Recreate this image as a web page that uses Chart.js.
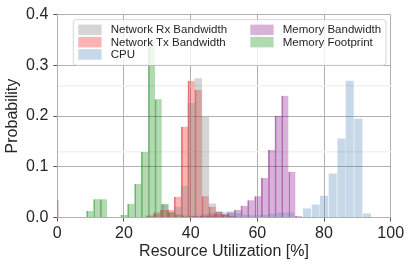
<!DOCTYPE html>
<html>
<head>
<meta charset="utf-8">
<script src="https://cdn.jsdelivr.net/npm/chart.js@4.4.1/dist/chart.umd.min.js"></script>
<style>
  body { margin: 0; background: #fff; }
  #wrap { width: 411px; height: 267px; }
</style>
</head>
<body>
<div id="wrap"><canvas id="histChart" width="411" height="267"></canvas></div>
<script>
// histogram bins (bin centre in %, probability)
const netBinW = 2.07;
const netX = [27.8, 29.9, 32.0, 34.0, 36.1, 38.2, 40.2, 42.3, 44.4, 46.5, 48.5, 50.6, 52.7];
const rxY  = [0.003, 0.010, 0.025, 0.010, 0.020, 0.062, 0.225, 0.274, 0.198, 0.027, 0.012, 0.006, 0.003];
const txY  = [0.004, 0.008, 0.015, 0.015, 0.041, 0.179, 0.269, 0.252, 0.042, 0.021, 0.011, 0.005, 0.003];

const cpuBinW = 2.57;
const cpuX = [41.5, 44.1, 46.6, 49.2, 51.8, 54.3, 56.9, 59.5, 62.0, 64.6, 67.2, 69.8, 74.9, 77.5, 80.0, 82.6, 85.2, 87.7, 90.3, 92.9];
const cpuY = [0.003, 0.006, 0.008, 0.010, 0.011, 0.008, 0.005, 0.004, 0.005, 0.007, 0.009, 0.009, 0.017, 0.025, 0.042, 0.086, 0.155, 0.269, 0.194, 0.007];

const memBwBinW = 2.04;
const memBwX = [-0.6, 41.8, 43.9, 45.9, 47.9, 50.0, 52.0, 54.1, 56.1, 58.1, 60.2, 62.2, 64.3, 66.3, 68.3, 70.4, 72.4];
const memBwY = [0.034, 0.002, 0.003, 0.004, 0.006, 0.007, 0.010, 0.015, 0.023, 0.034, 0.042, 0.078, 0.133, 0.200, 0.240, 0.090, 0.003];

const memFpBinW = 2.05;
const memFpX = [9.8, 11.9, 13.9, 16.0, 18.0, 20.1, 22.1, 24.2, 26.2, 28.3, 30.3, 32.4, 34.4, 36.5, 38.5, 40.6, 42.6];
const memFpY = [0.013, 0.036, 0.036, 0.001, 0.001, 0.005, 0.027, 0.066, 0.129, 0.349, 0.233, 0.027, 0.010, 0.006, 0.004, 0.003, 0.002];

const xTicks = [0, 20, 40, 60, 80, 100];
const yTicks = [0.0, 0.1, 0.2, 0.3, 0.4];

const FONT = "'Liberation Sans', Arial, sans-serif";
const TXT = '#262626';

function pts(xs, ys) {
  return xs.map((x, i) => ({ x: x, y: ys[i] }));
}

// bar width in pixels = bin width on the x scale
function binPx(chart, w, frac) {
  const s = chart.scales.x;
  if (!s) return 1;
  return (s.getPixelForValue(w) - s.getPixelForValue(0)) * frac;
}

function hist(label, xs, ys, w, fill, edge, frac) {
  return {
    label: label,
    data: pts(xs, ys),
    backgroundColor: fill,
    borderColor: edge || fill,
    borderWidth: edge ? { left: 1, right: 0, top: 0, bottom: 0 } : 0,
    borderSkipped: false,
    grouped: false,
    clip: 0,
    barThickness: ctx => binPx(ctx.chart, w, frac || 1)
  };
}

const datasets = [
  hist('Network Rx Bandwidth', netX, rxY, netBinW, 'rgba(128,128,128,0.33)', null),
  hist('Network Tx Bandwidth', netX, txY, netBinW, 'rgba(255,0,0,0.3)', 'rgba(220,0,0,0.5)'),
  hist('CPU', cpuX, cpuY, cpuBinW, 'rgba(70,130,180,0.3)', null, 0.86),
  hist('Memory Bandwidth', memBwX, memBwY, memBwBinW, 'rgba(128,0,128,0.3)', 'rgba(128,0,128,0.5)'),
  hist('Memory Footprint', memFpX, memFpY, memFpBinW, 'rgba(0,128,0,0.3)', 'rgba(0,128,0,0.5)')
];

// matplotlib style legend box, 2 columns, filled column by column
const boxLegend = {
  id: 'boxLegend',
  afterDatasetsDraw(chart) {
    const ctx = chart.ctx;
    const a = chart.chartArea;
    const bx = a.left + 16, by = a.top + 5;
    const bw = a.right - 4.7 - bx, bh = 45.7;
    ctx.save();
    ctx.beginPath();
    ctx.roundRect(bx, by, bw, bh, 3);
    ctx.fillStyle = 'rgba(255,255,255,0.8)';
    ctx.fill();
    ctx.strokeStyle = 'rgba(204,204,204,0.8)';
    ctx.lineWidth = 1;
    ctx.stroke();
    ctx.font = '11.5px ' + FONT;
    ctx.textBaseline = 'middle';
    const cols = [bx + 5, bx + 177];
    chart.data.datasets.forEach((ds, i) => {
      const col = i < 3 ? 0 : 1;
      const row = i < 3 ? i : i - 3;
      const sx = cols[col];
      const sy = by + 5 + row * 12.3;
      ctx.fillStyle = 'white';
      ctx.fillRect(sx, sy, 23.3, 10.5);
      ctx.fillStyle = ds.backgroundColor;
      ctx.fillRect(sx, sy, 23.3, 10.5);
      ctx.fillStyle = TXT;
      ctx.fillText(ds.label, sx + 32.4, sy + 5.5);
    });
    ctx.restore();
  }
};

new Chart(document.getElementById('histChart'), {
  type: 'bar',
  data: { datasets: datasets },
  options: {
    responsive: false,
    animation: false,
    devicePixelRatio: 1,
    layout: { padding: { top: 13.5, right: 20.3, left: 0, bottom: 0 } },
    plugins: {
      legend: { display: false },
      tooltip: { enabled: false }
    },
    scales: {
      x: {
        type: 'linear',
        min: 0,
        max: 100,
        offset: false,
        afterFit: s => { s.height = 49.5; },
        afterBuildTicks: s => { s.ticks = xTicks.map(v => ({ value: v })); },
        ticks: { color: TXT, font: { family: FONT, size: 16 }, padding: 2, maxRotation: 0 },
        grid: { offset: false, color: '#b0b0b0', lineWidth: 1, tickLength: 4, tickColor: '#555' },
        border: { color: '#b0b0b0' },
        title: {
          display: true,
          text: 'Resource Utilization [%]',
          color: TXT,
          font: { family: FONT, size: 16 },
          padding: { top: 0, bottom: 6 }
        }
      },
      y: {
        min: 0,
        max: 0.4,
        afterFit: s => { s.width = 57.3; },
        afterBuildTicks: s => { s.ticks = yTicks.map(v => ({ value: v })); },
        ticks: {
          color: TXT,
          font: { family: FONT, size: 16 },
          padding: 5,
          callback: v => v.toFixed(1)
        },
        grid: { color: '#b0b0b0', lineWidth: 1, tickLength: 4, tickColor: '#555' },
        border: { color: '#b0b0b0' },
        title: {
          display: true,
          text: 'Probability',
          color: TXT,
          font: { family: FONT, size: 16 },
          padding: { top: 3, bottom: 0 }
        }
      },
      y2: {
        position: 'right',
        min: 0,
        max: 3.08,
        afterFit: s => { s.width = 0; },
        ticks: { display: false, stepSize: 1 },
        grid: {
          drawTicks: false,
          lineWidth: 1.5,
          color: c => (c.tick && c.tick.value >= 1 && c.tick.value <= 3) ? '#f1f1f1' : 'rgba(0,0,0,0)'
        },
        border: { display: false }
      }
    }
  },
  plugins: [boxLegend]
});
</script>
</body>
</html>
